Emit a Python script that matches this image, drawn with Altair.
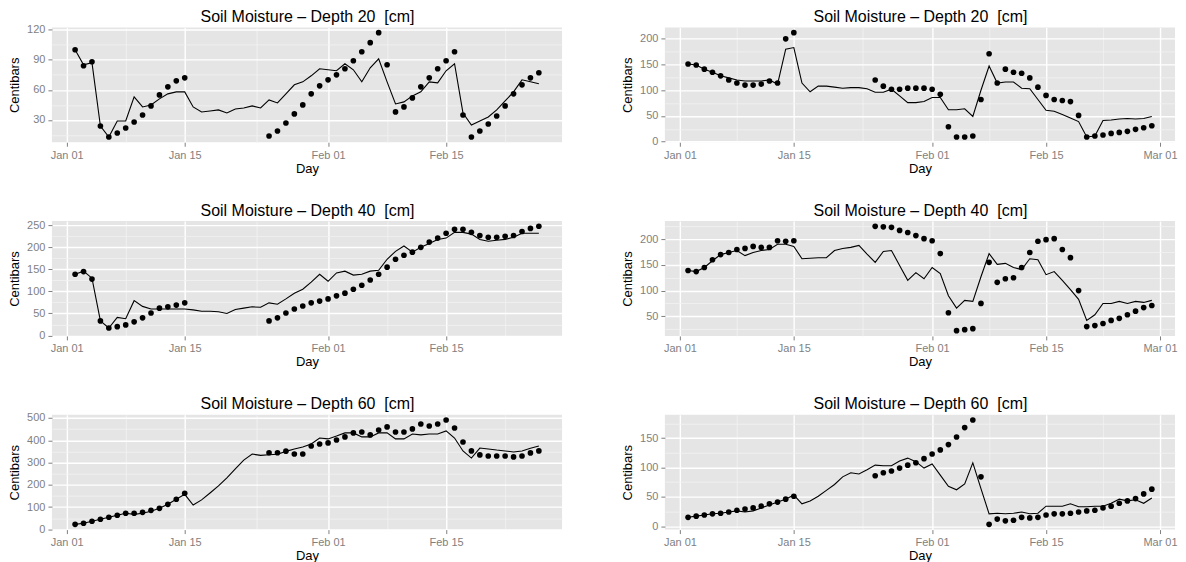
import altair as alt
import pandas as pd

FONT = "Liberation Sans"
N = None

# ---------------- data ----------------
LEFT_START, LEFT_END = "2013-01-02", "2013-02-26"
RIGHT_START, RIGHT_END = "2013-01-02", "2013-02-28"

# Depth 20, left panel
p1_obs = [100, 84, 88, 24, 13, 17, 22, 28, 35, 44, 55, 63, 69, 72,
          N, N, N, N, N, N, N, N, N,
          14, 19, 27, 36, 45, 56, 64, 70, 75, 81, 89, 98, 107, 117, 85, 38, 43, 52,
          63, 72, 81, 89, 98, 35, 13, 19, 26, 34, 44, 56, 65, 72, 77]
p1_fit = [100, 85, 87, 24, 13, 29, 29, 53, 43, 45, 51, 56, 58, 58, 43, 38, 39, 40, 37, 41,
          42, 44, 42, 50, 47, 56, 65, 68, 74, 81, 80, 79, 86, 80, 68, 82, 91, 68, 46, 48,
          54, 58, 68, 67, 79, 86, 37, 25, 29, 33, 40, 49, 58, 70, 68, 66]

# Depth 20, right panel
p2_obs = [151, 149, 141, 135, 128, 120, 114, 110, 110, 112, 118, 114, 200, 212,
          N, N, N, N, N, N, N, N, N,
          120, 108, 102, 102, 104, 104, 104, 102, 92, 29, 9, 9, 11, 82, 171, 114, 141, 135,
          133, 124, 106, 90, 82, 80, 78, 51, 9, 11, 13, 16, 18, 20, 24, 27, 31]
p2_fit = [151, 149, 141, 135, 128, 124, 120, 118, 118, 118, 120, 112, 180, 183, 114, 97, 108, 108, 106, 104,
          105, 105, 103, 96, 96, 102, 89, 76, 76, 78, 86, 86, 62, 62, 64, 49, 100, 147, 114, 116,
          116, 104, 103, 82, 61, 59, 53, 46, 39, 9, 11, 41, 42, 44, 45, 44, 45, 49]

# Depth 40, left panel
p3_obs = [139, 145, 128, 33, 17, 20, 24, 31, 40, 51, 62, 65, 69, 74,
          N, N, N, N, N, N, N, N, N,
          33, 40, 51, 60, 67, 74, 78, 83, 90, 96, 105, 114, 126, 139, 155, 173, 182, 189,
          200, 212, 221, 232, 241, 241, 234, 227, 223, 223, 225, 227, 236, 243, 248]
p3_fit = [139, 146, 130, 33, 17, 41, 38, 79, 66, 60, 60, 60, 60, 60, 58, 55, 55, 54, 50, 59,
          62, 65, 64, 74, 71, 83, 96, 105, 121, 139, 123, 142, 146, 137, 139, 146, 148, 173, 191, 203,
          189, 200, 209, 218, 221, 234, 234, 230, 218, 214, 216, 218, 223, 232, 232, 232]

# Depth 40, right panel
p4_obs = [139, 137, 145, 160, 170, 174, 180, 182, 186, 184, 184, 197, 196, 197,
          N, N, N, N, N, N, N, N, N,
          225, 224, 223, 217, 213, 207, 201, 197, 172, 57, 22, 24, 26, 75, 155, 116, 123, 125,
          145, 174, 196, 199, 201, 180, 164, 100, 30, 32, 36, 42, 46, 53, 60, 67, 71]
p4_fit = [139, 137, 145, 158, 170, 174, 178, 168, 174, 178, 180, 190, 190, 186, 162, 163, 164, 164, 178, 182,
          184, 188, 171, 155, 176, 178, 149, 120, 135, 123, 145, 133, 90, 66, 81, 79, 127, 172, 151, 153,
          145, 141, 162, 160, 131, 137, 120, 102, 83, 42, 53, 75, 75, 79, 75, 79, 77, 81]

# Depth 60, left panel
p5_obs = [22, 27, 36, 45, 54, 63, 72, 72, 76, 85, 94, 112, 135, 162,
          N, N, N, N, N, N, N, N, N,
          344, 344, 351, 338, 338, 374, 383, 388, 401, 415, 433, 437, 424, 446, 460, 437, 437, 451,
          473, 464, 473, 491, 455, 392, 352, 334, 329, 329, 329, 325, 329, 343, 352]
p5_fit = [22, 27, 36, 45, 54, 63, 72, 67, 72, 81, 94, 112, 135, 157, 109, 132, 163, 195, 231, 271,
          311, 338, 332, 335, 337, 350, 361, 370, 383, 410, 406, 419, 433, 433, 415, 415, 433, 433, 406, 406,
          428, 424, 428, 428, 442, 410, 352, 320, 365, 361, 356, 352, 347, 352, 364, 374]

# Depth 60, right panel
p6_obs = [15, 17, 19, 21, 22, 24, 27, 29, 31, 34, 38, 41, 46, 51,
          N, N, N, N, N, N, N, N, N,
          86, 91, 94, 99, 104, 108, 115, 123, 130, 139, 152, 168, 181, 84, 3, 12, 9, 10,
          15, 14, 15, 19, 21, 21, 22, 24, 26, 27, 31, 34, 39, 43, 47, 55, 63]
p6_fit = [15, 17, 19, 21, 22, 24, 26, 24, 26, 31, 36, 41, 46, 53, 38, 43, 51, 61, 71, 84,
          91, 89, 96, 104, 103, 103, 111, 116, 110, 99, 106, 87, 68, 62, 72, 108, 64, 21, 22, 21,
          22, 24, 21, 22, 34, 34, 34, 38, 33, 33, 34, 34, 39, 46, 43, 45, 39, 48]

# axis breaks (tick labels)
X_MAJOR = ["2013-01-01", "2013-01-15", "2013-02-01", "2013-02-15", "2013-03-01"]
X_MINOR = ["2013-01-08", "2013-01-23T12:00", "2013-02-08", "2013-02-22"]
Y_BREAKS = {
    1: ([30, 60, 90, 120], [15, 45, 75, 105]),
    2: ([0, 50, 100, 150, 200], [25, 75, 125, 175]),
    3: ([0, 50, 100, 150, 200, 250], [25, 75, 125, 175, 225]),
    4: ([50, 100, 150, 200], [25, 75, 125, 175, 225]),
    5: ([0, 100, 200, 300, 400, 500], [50, 150, 250, 350, 450]),
    6: ([0, 50, 100, 150], [25, 75, 125, 175]),
}
# the reference's depth-40 (left) panel reaches just below 0
Y_LOW_OVERRIDE = {3: -1.0}

MAJOR_GRID = "#FFFFFF"
MINOR_GRID = "#F2F2F2"
PANEL_W, PANEL_H = 511, 115


def ms(s):
    return pd.Timestamp(s).value // 10**6


def xaxis(vals):
    minor = "utcdate(datum.value) != 1 && utcdate(datum.value) != 15"
    return alt.Axis(
        values=vals, title="Day", orient="bottom",
        labelExpr=f"({minor}) ? '' : utcFormat(datum.value, '%b %d')",
        grid=True,
        gridColor={"condition": {"test": minor, "value": MINOR_GRID}, "value": MAJOR_GRID},
        gridWidth={"condition": {"test": minor, "value": 0.8}, "value": 1.4},
        tickOpacity={"condition": {"test": minor, "value": 0}, "value": 1},
        labelOverlap=False, labelFlush=False,
    )


def title_axis(text):
    # panel heading drawn as the title of a bare top axis
    return alt.Axis(
        orient="top", title=text, labels=False, ticks=False, domain=False, grid=False,
        titleFontSize=16, titleFont=FONT, titleFontWeight="normal", titleColor="black",
        titlePadding=3,
    )


def yaxis(major, minor_vals):
    minor = f"indexof({minor_vals}, datum.value) >= 0"
    return alt.Axis(
        values=sorted(major + minor_vals), title="Centibars",
        labelExpr=f"({minor}) ? '' : datum.label",
        grid=True, titlePadding=5,
        gridColor={"condition": {"test": minor, "value": MINOR_GRID}, "value": MAJOR_GRID},
        gridWidth={"condition": {"test": minor, "value": 0.8}, "value": 1.4},
        tickOpacity={"condition": {"test": minor, "value": 0}, "value": 1},
        labelOverlap=False, labelFlush=False,
    )


def panel(idx, start, end, obs, fit, depth):
    days = pd.date_range(start, end, freq="D")
    df = pd.DataFrame({"Day": days.strftime("%Y-%m-%d"), "Observed": obs, "Modeled": fit})
    t0, t1 = ms(days[0]), ms(days[-1])
    xp = 0.05 * (t1 - t0)
    xdom = [t0 - xp, t1 + xp]
    vals = [v for v in obs + fit if v is not None]
    lo, hi = min(vals), max(vals)
    yp = 0.05 * (hi - lo)
    ydom = [Y_LOW_OVERRIDE.get(idx, lo - yp), hi + yp]
    xv = [ms(d) for d in X_MAJOR + X_MINOR if xdom[0] <= ms(d) <= xdom[1]]
    ymaj, ymin = Y_BREAKS[idx]
    ymaj = [v for v in ymaj if ydom[0] <= v <= ydom[1]]
    ymin = [v for v in ymin if ydom[0] <= v <= ydom[1]]

    xscale = alt.Scale(type="utc", domain=xdom, nice=False)
    yscale = alt.Scale(domain=ydom, nice=False, zero=False)
    heading = f"Soil Moisture \u2013 Depth {depth}\u00a0 [cm]"
    base = alt.Chart(df)
    line = base.mark_line(color="black", strokeWidth=1.1).encode(
        x=alt.X("Day:T", scale=xscale, axis=xaxis(xv)),
        y=alt.Y("Modeled:Q", scale=yscale, axis=yaxis(ymaj, ymin)))
    pts = base.mark_circle(color="black", size=32, opacity=1).encode(
        x=alt.X("Day:T", scale=xscale, axis=title_axis(heading)),
        y=alt.Y("Observed:Q", scale=yscale, axis=yaxis(ymaj, ymin)))
    return alt.layer(line, pts).resolve_axis(x="independent").properties(
        width=PANEL_W, height=PANEL_H)


panels = [
    panel(1, LEFT_START, LEFT_END, p1_obs, p1_fit, 20),
    panel(2, RIGHT_START, RIGHT_END, p2_obs, p2_fit, 20),
    panel(3, LEFT_START, LEFT_END, p3_obs, p3_fit, 40),
    panel(4, RIGHT_START, RIGHT_END, p4_obs, p4_fit, 40),
    panel(5, LEFT_START, LEFT_END, p5_obs, p5_fit, 60),
    panel(6, RIGHT_START, RIGHT_END, p6_obs, p6_fit, 60),
]

chart = alt.concat(
    *panels, columns=2, spacing={"row": 79, "column": 103}, bounds="flush"
).properties(
    padding={"left": 0, "top": 0, "right": 0, "bottom": 0}
).configure_view(
    fill="#E5E5E5", stroke=None
).configure_axis(
    labelFont=FONT, labelFontSize=11, labelColor="#7F7F7F",
    tickColor="#7F7F7F", tickSize=4, tickWidth=1, labelPadding=3,
    domain=False,
    titleFont=FONT, titleFontSize=13, titleFontWeight="normal", titleColor="black",
    titlePadding=2,
)

chart.save("out.html", embed_options={"renderer": "svg", "actions": False})
